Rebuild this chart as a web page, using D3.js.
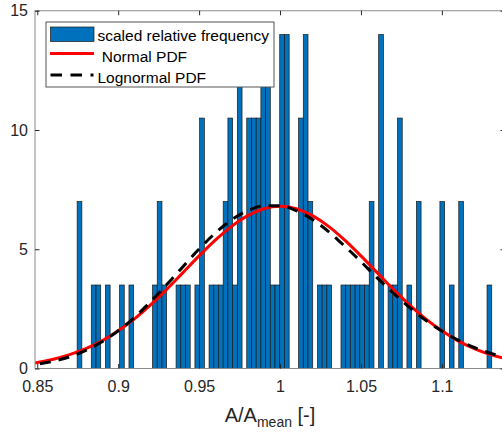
<!DOCTYPE html>
<html>
<head>
<meta charset="utf-8">
<script src="https://cdn.jsdelivr.net/npm/d3@7"></script>
<style>
  body { margin: 0; background: #fff; }
  svg { display: block; font-family: "Liberation Sans", Arial, sans-serif; }
</style>
</head>
<body>
<div id="chart"></div>
<script>
// histogram bins (scaled relative frequency)
const binStart = 0.87464;
const binWidth = 0.002911;
const freq = [
  7, 0, 0, 3.5, 3.5, 0, 3.5, 0, 0, 3.5,
  0, 3.5, 0, 0, 0, 0, 3.5, 7, 3.5, 0,
  0, 3.5, 3.5, 3.5, 0, 3.5, 10.5, 0, 3.5, 3.5,
  3.5, 7, 10.5, 3.5, 14, 0, 10.5, 10.5, 10.5, 14,
  14, 3.5, 3.5, 14, 14, 0, 0, 10.5, 14, 7,
  0, 3.5, 3.5, 3.5, 0, 0, 3.5, 3.5, 3.5, 3.5,
  3.5, 3.5, 7, 0, 14, 0, 3.5, 3.5, 10.5, 0,
  3.5, 0, 7, 0, 0, 0, 0, 7, 0, 3.5,
  0, 7, 0, 0, 0, 0, 0, 3.5
];

// fitted curves
const pdfX = [
  0.84, 0.85, 0.86, 0.87, 0.88, 0.89, 0.90, 0.91, 0.92, 0.93,
  0.94, 0.95, 0.96, 0.97, 0.98, 0.99, 1.00, 1.01, 1.02, 1.03,
  1.04, 1.05, 1.06, 1.07, 1.08, 1.09, 1.10, 1.11, 1.12, 1.13, 1.14
];
const normalPdf = [
  0.16, 0.25, 0.39, 0.58, 0.83, 1.16, 1.58, 2.08, 2.67, 3.32,
  4.02, 4.72, 5.38, 5.96, 6.41, 6.70, 6.80, 6.70, 6.41, 5.96,
  5.38, 4.72, 4.02, 3.32, 2.67, 2.08, 1.58, 1.16, 0.83, 0.58, 0.41
];
const lognormalPdf = [
  0.10, 0.18, 0.31, 0.49, 0.76, 1.12, 1.58, 2.14, 2.80, 3.52,
  4.27, 5.01, 5.68, 6.23, 6.62, 6.82, 6.82, 6.62, 6.25, 5.74,
  5.13, 4.48, 3.80, 3.16, 2.56, 2.02, 1.57, 1.19, 0.88, 0.64, 0.46
];

const xTicks = [0.85, 0.9, 0.95, 1, 1.05, 1.1];
const yTicks = [0, 5, 10, 15];
const legendLabels = ['scaled relative frequency', ' Normal PDF', 'Lognormal PDF'];

const width = 502, height = 432;
const plot = { left: 35, right: 505, top: 10.75, bottom: 368.5 };
const barColor = '#0072BD', axisColor = '#262626';

const svg = d3.select('#chart').append('svg')
  .attr('width', width)
  .attr('height', height);

const x = d3.scaleLinear().domain([0.8486, 1.139]).range([plot.left, plot.right]);
const y = d3.scaleLinear().domain([0, 15]).range([plot.bottom, plot.top]);

svg.append('defs').append('clipPath').attr('id', 'clip')
  .append('rect')
  .attr('x', plot.left).attr('y', plot.top)
  .attr('width', plot.right - plot.left).attr('height', plot.bottom - plot.top);

const bins = freq.map((h, i) => ({ x0: binStart + i * binWidth, x1: binStart + (i + 1) * binWidth, h }))
  .filter(d => d.h > 0);

const body = svg.append('g').attr('clip-path', 'url(#clip)');

body.selectAll('.bar')
  .data(bins)
  .enter()
  .append('rect')
  .attr('class', 'bar')
  .attr('x', d => x(d.x0))
  .attr('width', d => x(d.x1) - x(d.x0))
  .attr('y', d => y(d.h))
  .attr('height', d => y(0) - y(d.h))
  .attr('fill', barColor)
  .attr('stroke', '#1a1a1a')
  .attr('stroke-width', 0.7);

const line = vals => d3.line()
  .x((d, i) => x(pdfX[i]))
  .y(d => y(d))
  .curve(d3.curveMonotoneX)(vals);

body.append('path')
  .attr('d', line(normalPdf))
  .attr('fill', 'none')
  .attr('stroke', '#ff0000')
  .attr('stroke-width', 3);

body.append('path')
  .attr('d', line(lognormalPdf))
  .attr('fill', 'none')
  .attr('stroke', '#000')
  .attr('stroke-width', 3)
  .attr('stroke-dasharray', '11,8');

// axes box
svg.append('rect')
  .attr('x', plot.left).attr('y', plot.top)
  .attr('width', plot.right - plot.left).attr('height', plot.bottom - plot.top)
  .attr('fill', 'none')
  .attr('stroke', '#8a8a8a')
  .attr('stroke-width', 1);

const styleAxis = g => {
  g.select('.domain').remove();
  g.selectAll('.tick line').attr('stroke', axisColor);
  g.selectAll('.tick text').attr('fill', axisColor).style('font-size', '16px');
};

svg.append('g')
  .attr('transform', `translate(0,${plot.bottom})`)
  .call(d3.axisBottom(x).tickValues(xTicks).tickFormat(d3.format('')).tickSizeInner(-4.5).tickSizeOuter(0).tickPadding(12.6))
  .call(styleAxis);

svg.append('g')
  .attr('transform', `translate(0,${plot.top})`)
  .call(d3.axisTop(x).tickValues(xTicks).tickFormat('').tickSizeInner(-4.5).tickSizeOuter(0))
  .call(styleAxis);

svg.append('g')
  .attr('transform', `translate(${plot.left},0)`)
  .call(d3.axisLeft(y).tickValues(yTicks).tickSizeInner(-4.5).tickSizeOuter(0).tickPadding(7))
  .call(styleAxis);

svg.append('g')
  .attr('transform', `translate(${plot.right},0)`)
  .call(d3.axisRight(y).tickValues(yTicks).tickFormat('').tickSizeInner(-4.5).tickSizeOuter(0))
  .call(styleAxis);

// x label
const xl = svg.append('text')
  .attr('x', (plot.left + plot.right) / 2)
  .attr('y', 421.5)
  .attr('text-anchor', 'middle')
  .attr('fill', axisColor)
  .style('font-size', '20px');
xl.append('tspan').text('A/A');
xl.append('tspan').attr('dy', 5).style('font-size', '14px').text('mean');
xl.append('tspan').attr('dy', -5).text(' [-]');

// legend
const lg = svg.append('g');
lg.append('rect')
  .attr('x', 46).attr('y', 22)
  .attr('width', 228).attr('height', 65)
  .attr('fill', '#fff')
  .attr('stroke', '#555')
  .attr('stroke-width', 1);

lg.append('rect')
  .attr('x', 50.5).attr('y', 27)
  .attr('width', 43.5).attr('height', 14.5)
  .attr('fill', barColor)
  .attr('stroke', '#1a1a1a')
  .attr('stroke-width', 0.7);

lg.append('line')
  .attr('x1', 50).attr('x2', 94).attr('y1', 53.5).attr('y2', 53.5)
  .attr('stroke', '#ff0000').attr('stroke-width', 3);

lg.append('line')
  .attr('x1', 50.5).attr('x2', 93.5).attr('y1', 75).attr('y2', 75)
  .attr('stroke', '#000').attr('stroke-width', 3)
  .attr('stroke-dasharray', '11.5,8.5');

lg.selectAll('.lt')
  .data(legendLabels)
  .enter()
  .append('text')
  .attr('class', 'lt')
  .attr('x', 97.5)
  .attr('y', (d, i) => 40.5 + i * 21)
  .attr('fill', '#000')
  .style('font-size', '15.5px')
  .style('white-space', 'pre')
  .text(d => d);
</script>
</body>
</html>
